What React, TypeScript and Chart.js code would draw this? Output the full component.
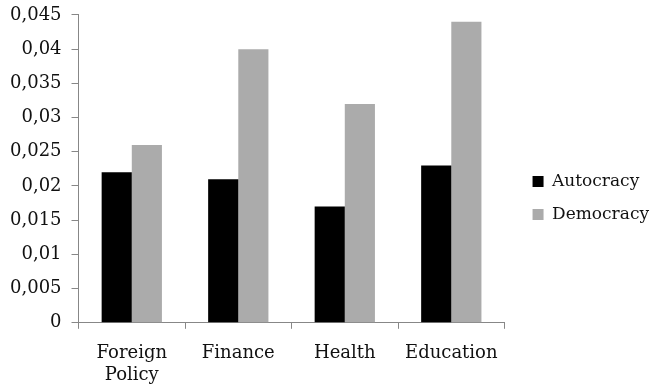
import React, { useEffect, useRef } from "react";
import { Chart, registerables } from "chart.js";

Chart.register(...registerables);

const categories: (string | string[])[] = [["Foreign", "Policy"], "Finance", "Health", "Education"];
const autocracy = [0.022, 0.021, 0.017, 0.023];
const democracy = [0.026, 0.04, 0.032, 0.044];
const yTickLabels = ["0", "0,005", "0,01", "0,015", "0,02", "0,025", "0,03", "0,035", "0,04", "0,045"];

const FONT = "'DejaVu Serif', serif";

// nudges the legend items a little further from the plot area
const legendShift = {
  id: "legendShift",
  afterLayout(chart: any) {
    const lg = chart.legend;
    if (lg) {
      lg.left += 12;
      lg.right += 12;
      lg.top -= 1;
      lg.bottom -= 1;
    }
  },
};

export default function App() {
  const ref = useRef<HTMLCanvasElement | null>(null);

  useEffect(() => {
    if (!ref.current) return;
    const chart = new Chart(ref.current, {
      type: "bar",
      data: {
        labels: categories,
        datasets: [
          { label: "Autocracy", data: autocracy, backgroundColor: "#000000", borderWidth: 0 },
          { label: "Democracy", data: democracy, backgroundColor: "#ababab", borderWidth: 0 },
        ],
      },
      options: {
        animation: false,
        responsive: false,
        maintainAspectRatio: false,
        layout: { padding: { top: -2, left: 0, right: 5, bottom: -11 } },
        datasets: { bar: { categoryPercentage: 0.566, barPercentage: 1 } },
        plugins: {
          tooltip: { enabled: false },
          legend: {
            position: "right",
            labels: { boxWidth: 11, boxHeight: 11, padding: 16, color: "#111111", font: { family: FONT, size: 17 } },
          },
        },
        scales: {
          x: {
            grid: { display: true, drawOnChartArea: false, drawTicks: true, tickLength: 6, color: "#878787", offset: true },
            border: { display: true, color: "#878787", width: 1 },
            ticks: { color: "#111111", font: { family: FONT, size: 18, lineHeight: 1.2 }, padding: 14, maxRotation: 0, autoSkip: false },
          },
          y: {
            min: 0,
            max: 0.045,
            grid: { display: true, drawOnChartArea: false, drawTicks: true, tickLength: 7, color: "#878787" },
            border: { display: true, color: "#878787", width: 1 },
            ticks: {
              stepSize: 0.005,
              color: "#111111",
              font: { family: FONT, size: 18, lineHeight: 0.55 },
              padding: 10,
              callback: (_v: any, i: number) => yTickLabels[i],
            },
          },
        },
      },
      plugins: [legendShift],
    });
    return () => chart.destroy();
  }, []);

  return (
    <div style={{ position: "fixed", left: 0, top: 0, width: 652, height: 389, background: "#fff" }}>
      <canvas ref={ref} width={652} height={389} />
    </div>
  );
}
